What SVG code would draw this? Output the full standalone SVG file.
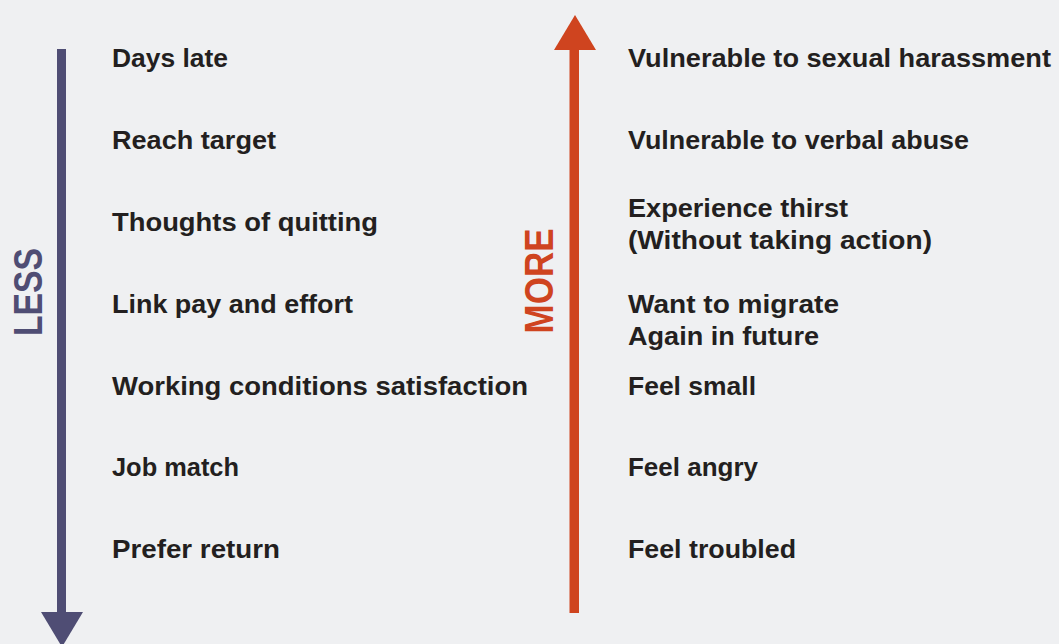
<svg xmlns="http://www.w3.org/2000/svg" width="1059" height="644" viewBox="0 0 1059 644">
<style>
.lbl{font-family:"Liberation Sans",Arial,sans-serif;font-weight:bold;font-size:25px;fill:#231f20}
.axis{font-family:"Liberation Sans",Arial,sans-serif;font-weight:bold;font-size:41px}
.less{fill:#4f4d74}
.more{fill:#cf441f}
</style>
<rect width="1059" height="644" fill="#eff0f2"/>
<g id="connectors">
<g id="less-arrow">
<rect x="57" y="49" width="9" height="566" class="less"/>
<polygon points="41,612 83,612 62,647" class="less"/>
</g>
<g id="more-arrow">
<rect x="569.5" y="47" width="9.5" height="566" class="more"/>
<polygon points="554,50 596,50 575,15" class="more"/>
</g>
</g>
<g id="axis-labels">
<text class="axis less" transform="translate(42,292) rotate(-90)" text-anchor="middle" textLength="88" lengthAdjust="spacingAndGlyphs">LESS</text>
<text class="axis more" transform="translate(553,281) rotate(-90)" text-anchor="middle" textLength="105" lengthAdjust="spacingAndGlyphs">MORE</text>
</g>
<g id="less-items">
<g id="n-days-late"><text class="lbl" x="112" y="67" textLength="116" lengthAdjust="spacingAndGlyphs">Days late</text></g>
<g id="n-reach-target"><text class="lbl" x="112" y="149" textLength="164" lengthAdjust="spacingAndGlyphs">Reach target</text></g>
<g id="n-quitting"><text class="lbl" x="112" y="231" textLength="266" lengthAdjust="spacingAndGlyphs">Thoughts of quitting</text></g>
<g id="n-link-pay"><text class="lbl" x="112" y="313" textLength="241" lengthAdjust="spacingAndGlyphs">Link pay and effort</text></g>
<g id="n-working"><text class="lbl" x="112" y="395" textLength="416" lengthAdjust="spacingAndGlyphs">Working conditions satisfaction</text></g>
<g id="n-job-match"><text class="lbl" x="112" y="476" textLength="127" lengthAdjust="spacingAndGlyphs">Job match</text></g>
<g id="n-prefer-return"><text class="lbl" x="112" y="558" textLength="168" lengthAdjust="spacingAndGlyphs">Prefer return</text></g>
</g>
<g id="more-items">
<g id="n-sexual"><text class="lbl" x="628" y="67" textLength="423" lengthAdjust="spacingAndGlyphs">Vulnerable to sexual harassment</text></g>
<g id="n-verbal"><text class="lbl" x="628" y="149" textLength="341" lengthAdjust="spacingAndGlyphs">Vulnerable to verbal abuse</text></g>
<g id="n-thirst"><text class="lbl" x="628" y="217" textLength="220" lengthAdjust="spacingAndGlyphs">Experience thirst</text><text class="lbl" x="628" y="249" textLength="304" lengthAdjust="spacingAndGlyphs">(Without taking action)</text></g>
<g id="n-migrate"><text class="lbl" x="628" y="313" textLength="211" lengthAdjust="spacingAndGlyphs">Want to migrate</text><text class="lbl" x="628" y="345" textLength="191" lengthAdjust="spacingAndGlyphs">Again in future</text></g>
<g id="n-small"><text class="lbl" x="628" y="395" textLength="128" lengthAdjust="spacingAndGlyphs">Feel small</text></g>
<g id="n-angry"><text class="lbl" x="628" y="476" textLength="130" lengthAdjust="spacingAndGlyphs">Feel angry</text></g>
<g id="n-troubled"><text class="lbl" x="628" y="558" textLength="168" lengthAdjust="spacingAndGlyphs">Feel troubled</text></g>
</g>
</svg>
